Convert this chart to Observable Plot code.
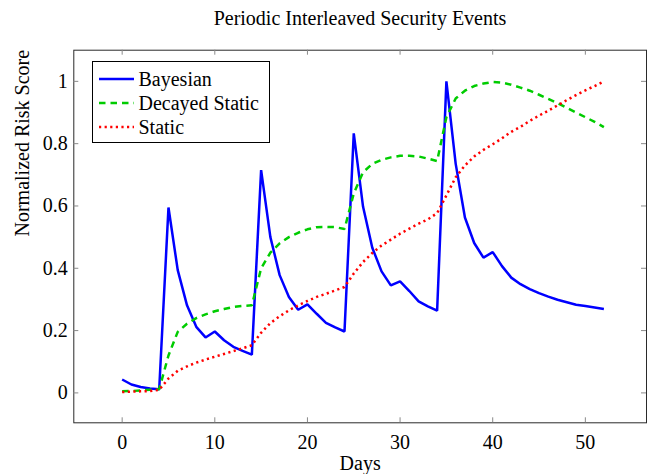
<!DOCTYPE html>
<html><head><meta charset="utf-8">
<script src="https://cdn.jsdelivr.net/npm/d3@7"></script>
<script src="https://cdn.jsdelivr.net/npm/@observablehq/plot@0.6"></script>
<style>
body{margin:0;background:#fff;}
#wrap, #wrap *{font-family:"Liberation Serif","DejaVu Serif",serif;}
#wrap{position:relative;width:647px;height:474px;color:#000;}
#title{position:absolute;left:0;top:7px;width:720px;text-align:center;font-size:20px;line-height:22px;}
#legend{position:absolute;left:91.5px;top:61px;width:176px;height:80px;border:1px solid #000;background:#fff;font-size:20px;}
.row{position:absolute;left:0;height:24px;line-height:24px;font-size:20px;}
.row svg{position:absolute;left:6px;top:0;}
.row span{position:absolute;left:46px;top:0;white-space:nowrap;}
#wrap svg text{font-family:"Liberation Serif","DejaVu Serif",serif !important;}
</style></head><body><div id="wrap"><div id="title"></div></div>
<script>
const titleText = "Periodic Interleaved Security Events";
const xLabel = "Days";
const yLabel = "Normalized Risk Score";
const seriesNames = ["Bayesian", "Decayed Static", "Static"];
const seriesColors = ["#0000ff", "#00cc00", "#ff0000"];
const seriesDash = [null, "6.5,5", "2.2,3.4"];
const xTicks = [0, 10, 20, 30, 40, 50];
const yTicks = [0, 0.2, 0.4, 0.6, 0.8, 1];

const days = [0,1,2,3,4,5,6,7,8,9,10,11,12,13,14,15,16,17,18,19,20,21,22,23,24,25,26,27,28,29,30,31,32,33,34,35,36,37,38,39,40,41,42,43,44,45,46,47,48,49,50,51,52];
const bayesian = [0.043,0.027,0.019,0.014,0.012,0.595,0.394,0.281,0.212,0.178,0.197,0.169,0.148,0.135,0.123,0.715,0.50,0.378,0.308,0.267,0.284,0.254,0.225,0.21,0.197,0.833,0.598,0.466,0.39,0.345,0.358,0.327,0.294,0.278,0.264,1.0,0.736,0.563,0.481,0.434,0.452,0.407,0.37,0.349,0.333,0.32,0.309,0.299,0.291,0.283,0.279,0.274,0.269];
const decayedStatic = [0.005,0.006,0.008,0.010,0.012,0.12,0.196,0.222,0.24,0.252,0.262,0.269,0.276,0.279,0.281,0.40,0.45,0.48,0.50,0.514,0.525,0.532,0.533,0.532,0.526,0.64,0.708,0.735,0.748,0.756,0.761,0.761,0.759,0.752,0.744,0.885,0.945,0.97,0.985,0.993,0.998,0.996,0.989,0.98,0.97,0.957,0.944,0.93,0.915,0.9,0.885,0.87,0.853];
const staticScore = [0.003,0.004,0.005,0.006,0.010,0.046,0.071,0.085,0.097,0.107,0.116,0.125,0.134,0.143,0.153,0.193,0.224,0.246,0.265,0.281,0.295,0.308,0.318,0.329,0.34,0.383,0.42,0.449,0.473,0.492,0.511,0.527,0.543,0.557,0.577,0.634,0.692,0.73,0.759,0.78,0.798,0.817,0.838,0.854,0.873,0.89,0.906,0.923,0.94,0.956,0.971,0.985,1.0];
const seriesValues = [bayesian, decayedStatic, staticScore];

const W = 647, H = 474;
const mL = 73.3, mR = 1, mT = 49.7, mB = 51.7;
const plotW = W - mL - mR, plotH = H - mT - mB;
const FONT = "Liberation Serif, DejaVu Serif, serif";

const rows = seriesNames.map((name, i) => days.map((d, j) => ({day: d, value: seriesValues[i][j], series: name})));

const marks = [
  Plot.frame({stroke: "#2a2a2a", strokeWidth: 1}),
  Plot.tickX(xTicks, {x: d => d, stroke: "#8a8a8a", insetTop: plotH - 5}),
  Plot.tickX(xTicks, {x: d => d, stroke: "#8a8a8a", insetBottom: plotH - 5}),
  Plot.tickY(yTicks, {y: d => d, stroke: "#8a8a8a", insetRight: plotW - 5}),
  Plot.tickY(yTicks, {y: d => d, stroke: "#8a8a8a", insetLeft: plotW - 5}),
  Plot.axisX(xTicks, {tickSize: 0, tickPadding: 12, label: null, fontSize: 20, fontFamily: FONT}),
  Plot.axisY(yTicks, {tickSize: 0, tickPadding: 6, label: null, fontSize: 20, fontFamily: FONT, tickFormat: d => String(d)}),
  Plot.text([xLabel], {frameAnchor: "bottom", dy: 41, lineAnchor: "middle", fontSize: 20, fontFamily: FONT}),
  Plot.text([yLabel], {frameAnchor: "left", dx: -51, rotate: -90, lineAnchor: "middle", fontSize: 20, fontFamily: FONT})
];
rows.forEach((r, i) => {
  marks.push(Plot.line(r, {x: "day", y: "value", stroke: seriesColors[i], strokeWidth: 2.5,
    strokeDasharray: seriesDash[i] || undefined, strokeLinejoin: "miter", strokeLinecap: "butt"}));
});

const chart = Plot.plot({
  width: W, height: H,
  marginLeft: mL, marginRight: mR, marginTop: mT, marginBottom: mB,
  x: {domain: [-5.22, 56.6], axis: null},
  y: {domain: [-0.096, 1.1], axis: null},
  style: {fontFamily: FONT, fontSize: "20px", color: "#000", background: "#fff"},
  marks
});
const wrap = document.getElementById("wrap");
wrap.prepend(chart);
chart.style.position = "absolute"; chart.style.left = "0"; chart.style.top = "0";

document.getElementById("title").textContent = titleText;

const legend = document.createElement("div");
legend.id = "legend";
seriesNames.forEach((name, i) => {
  const row = document.createElement("div");
  row.className = "row";
  row.style.top = (4.5 + i * 24) + "px";
  row.style.width = "176px";
  const dash = seriesDash[i] ? `stroke-dasharray="${seriesDash[i]}"` : "";
  row.innerHTML = `<svg width="36" height="24"><line x1="0" x2="35" y1="12" y2="12" stroke="${seriesColors[i]}" stroke-width="2.5" ${dash}/></svg><span></span>`;
  row.querySelector("span").textContent = name;
  legend.appendChild(row);
});
wrap.appendChild(legend);
</script></body></html>
